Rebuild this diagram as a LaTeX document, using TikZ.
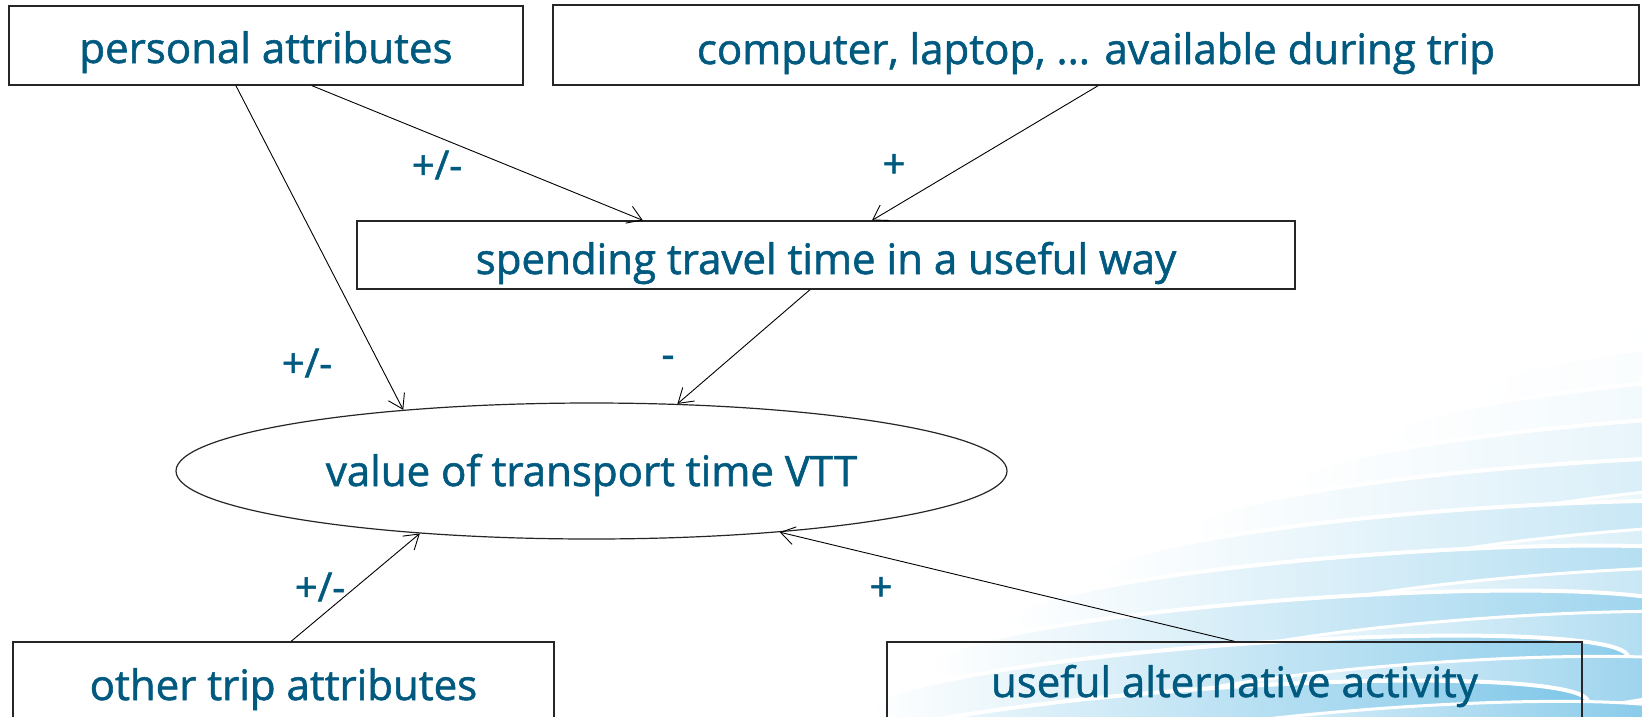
\documentclass[tikz,border=0pt]{standalone}
\usepackage{fontspec}
\setmainfont{Open Sans}
\newfontfamily\diagfont{Open Sans}[FakeBold=1.3]
\usetikzlibrary{arrows.meta,shapes.geometric,calc}
\definecolor{txt}{RGB}{0,90,128}
\definecolor{sky}{RGB}{125,198,232}
\tikzset{
  box/.style={draw=black!85, line width=1.3pt, rectangle, inner sep=0pt,
    text=txt, font=\diagfont\fontsize{42}{46}\selectfont, text depth=0pt},
  oval/.style={draw=black!85, line width=1.2pt, ellipse, inner sep=0pt, text=txt,
    font=\diagfont\fontsize{42}{46}\selectfont, text depth=0pt},
  lbl/.style={text=txt, font=\diagfont\fontsize{40}{44}\selectfont, inner sep=0pt},
  conn/.style={draw=black, line width=0.9pt, -{Straight Barb[length=14pt,width=18pt,line width=0.9pt]}}
}
\begin{document}
\begin{tikzpicture}[x=1pt,y=-1pt]
\useasboundingbox (0,0) rectangle (1642,716);
\clip (0,0) rectangle (1642,716);
\fill[white] (0,0) rectangle (1642,716);
% background clouds
\foreach \k/\yy/\xx in {0/350/1590,1/395/1470,2/440/1380,3/485/1290,4/530/1190,5/575/1100,6/620/1010,7/665/930,8/710/870,9/755/830}{
  \pgfmathtruncatemacro{\pct}{8+10*\k}
  \shade[left color=white, right color=sky!\pct, draw=white, line width=4pt, rotate around={4:(\xx,\yy)}]
    (\xx+380,\yy) ellipse [x radius=380, y radius=40];
  \shade[left color=white, right color=sky!\pct, draw=white, line width=3pt, rotate around={4:(\xx,\yy)}]
    (\xx+560,\yy+22) ellipse [x radius=300, y radius=30];
}
% nodes
\node[box, minimum width=514pt, minimum height=79pt, text height=35pt] (pa) at (266,45.5) {personal attributes};
\node[box, minimum width=1086pt, minimum height=80pt, text height=38pt] (comp) at (1096,45) {computer, laptop, ... available during trip};
\node[box, minimum width=938pt, minimum height=68pt, text height=38pt] (spend) at (826,255) {spending travel time in a useful way};
\node[oval, minimum width=831pt, minimum height=136pt, text height=30pt] (vtt) at (591.5,471) {value of transport time VTT};
\node[box, minimum width=541pt, minimum height=84pt, text height=32pt] (other) at (283.5,684) {other trip attributes};
\node[box, minimum width=695pt, minimum height=84pt, text height=26pt] (useful) at (1234.5,684) {useful alternative activity};
% labels
\node[lbl] (l1) at (437,165) {+/-};
\node[lbl] (l2) at (894,166) {+};
\node[lbl] (l3) at (307,363) {+/-};
\node[lbl] (l4) at (668,362) {-};
\node[lbl] (l5) at (320,587) {+/-};
\node[lbl] (l6) at (881,589) {+};
% connectors
\draw[conn] ($(pa.south west)!0.589!(pa.south east)$) -- ($(spend.north west)!0.305!(spend.north east)$);
\draw[conn] ($(comp.south west)!0.502!(comp.south east)$) -- ($(spend.north west)!0.549!(spend.north east)$);
\draw[conn] ($(pa.south west)!0.4416!(pa.south east)$) -- (vtt.162.5);
\draw[conn] ($(spend.south west)!0.483!(spend.south east)$) -- (vtt.38.4);
\draw[conn] ($(other.north west)!0.514!(other.north east)$) -- (vtt.200.4);
\draw[conn] (useful.north) -- (vtt.342.3);
\end{tikzpicture}
\end{document}
